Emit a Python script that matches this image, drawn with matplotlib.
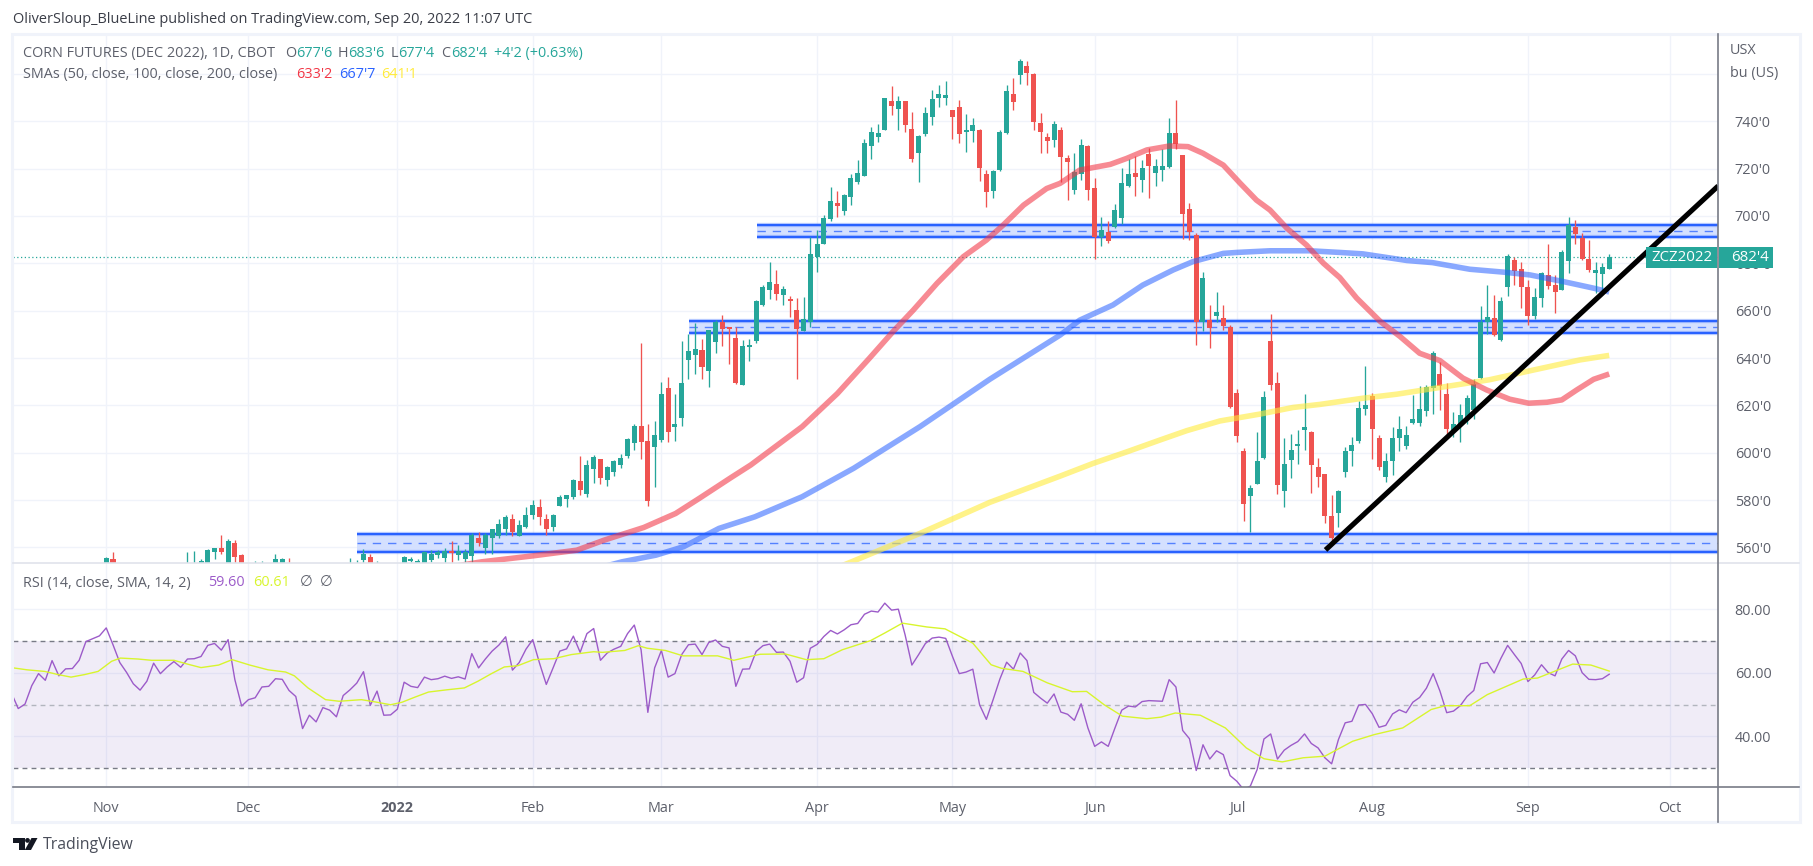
import numpy as np
import matplotlib
matplotlib.use('Agg')
import matplotlib.pyplot as plt
from matplotlib.patches import Rectangle, Polygon, Circle

plt.rcParams['font.family'] = ['Open Sans', 'DejaVu Sans']

W, H = 1813, 866

# candles, Nov 1 2021 (bar 13) to Sep 20 2022 (bar 235); bars under the pane bottom are estimates
opens = [552.5,555.1,549,547,549,550,548,549,551,549,550,551,
         550,551,550,552,558.1,559.7,552.8,561.9,556.8,551,549,550,551,552,552,552,
         550,548,547,549,547,545,548,550,550,551,554.7,556,550,551,549,550,
         552.5,554.4,552.5,553.2,554.7,556.8,555.5,558.5,556.8,555.1,556.4,564,559.7,
         563.9,564.8,567.7,572,564.8,568.6,573.7,577,572,568.6,577.5,580.4,581.3,588,582.5,593.1,
         597.3,588.4,591.8,594.8,598.6,604.1,611.3,604.9,602.4,605.3,627.3,610.8,614.6,639.2,641.3,
         643.4,634.5,646.8,655.2,652.9,648.4,628.6,644.6,647.2,662.4,668.7,671.3,666.6,665,660.3,651.5,
         655.4,682.7,688.2,698.7,705.4,702.1,708,714.3,716.9,729.5,733.3,736.3,748.5,745.2,748.5,736.7,
         726.6,734.6,741.8,749.8,749.8,744.7,746,735.5,735.9,736.3,717.7,710.5,719.4,735,751.5,759.5,
         763.3,760,739.3,733.3,732.1,736.3,724.5,711,717.7,729.6,711.8,691.1,693.2,695.3,699.1,712.7,
         718.2,715.2,726.2,718.2,719.4,720.7,735.1,725.8,702.9,691.9,655.2,656,657.7,656.9,653.1,625.2,
         600.7,581.7,586.7,597.7,647.2,629.4,583.8,596.9,602.8,609.5,608.7,593.9,590.9,573.3,574.7,592,
         600.5,605,618.5,624,606.3,589.9,596.3,606,603,612.6,612.7,617.8,627.5,633.3,624.9,609.6,611.8,
         614.7,618.1,631.6,655.3,657,647.7,670.1,681.5,677.7,670.1,657.8,665.4,675.1,670.9,668.8,681,
         695.4,690.8,681.9,676,675.6,677.75]
highs = [555.9,558.1,552,550,552,553,551,552,553,552,553,553,
         558.1,558.5,555.1,559.3,559.7,565.2,563.5,563.1,557.2,553,554.3,554.3,553,557.2,555.5,555.5,
         553,551,550,552,550,549,551,553,555.5,554.7,559.3,557.2,554.2,553,552,553,
         556.4,556,555.1,558.5,558.9,558.9,559.7,562.7,561,559.3,565.9,566.5,566,
         567.7,572,573.7,574.1,571.5,577,580,580.4,574.1,574.1,582.1,582.1,588.9,598.6,596.9,599,
         597.3,594.4,596.9,599.4,606.2,612.1,646.3,612.1,613.4,629.9,632,624.8,647.2,650.1,654.8,
         648,651.8,656,658.2,652.9,653.1,647.6,648,664.5,670.9,680.4,677.2,670.4,666.2,665.2,665.9,
         691.1,694.1,700.4,712.2,710.5,709.3,717.7,723.6,732.5,737.6,738.8,749.8,754.9,750.7,748.5,743.9,
         734.2,746,753.2,755.3,757,744.7,749,743.1,741.4,736.7,719.4,719.4,736.3,755.3,758.3,766.3,
         765.4,760.4,743.5,735,740.1,737.6,725.8,726.6,732.5,730,716,699.6,697.9,705,720.3,724.1,
         725.3,723.6,728.7,724.1,728.3,741.4,749,725.8,705.5,692.8,676.3,662.4,667.9,662.4,653.9,626.9,
         602,586.3,608.7,626,658.6,634.1,606.2,607.9,609.5,624.9,609.1,597.7,590.9,582.2,584.3,602.3,
         606.5,621.9,636.7,625.3,607.5,599.9,610.8,615.6,611.3,624.4,628.2,628.6,643,638.2,629.5,617.2,620.6,
         624.4,631,662,670.9,666.7,665.7,684,682.6,680.6,673,669.6,676.4,688.2,675.1,685.7,699.6,
         698.4,692.9,689.9,680.6,680.2,683.75]
lows = [551,550,546,544,546,547,545,546,548,546,547,548,
        548,549,548,550,555.1,557.2,551,552,550,548,547,548,548,550,550,549,
        547,545,544,546,543,542,545,547,548,549,552,550,548,548,546,547,
        550,553.7,550,552.5,554,555.5,552,552,554.7,552,553,560.6,557.2,
        557.2,563.9,565.2,564.8,564.8,568.2,572,569.4,565.2,566.9,577.5,577,580.4,582.1,581.3,587.2,
        586.8,585.9,590.1,593.5,597.7,601.1,597.3,577.5,585.5,604.5,604.5,604.9,611.3,631.1,633.2,
        631.1,627.7,642.1,645.1,637.5,629,628.6,638.7,646.5,662,665,664.5,662.4,657.3,631.1,651.5,
        653.2,676.4,688.1,697.8,699.5,700.4,704.6,713.5,716.9,724,731.2,736.3,742.6,736.3,735.5,722.8,
        714.3,733.8,738.4,746,746.9,732.5,730.8,727,731.2,714.8,703.8,707.6,719,734.6,744.7,755.7,
        755.3,736.3,726.6,726.6,729.1,714.3,706.7,709.3,715.2,706.7,681.8,687.3,688.6,694.9,696.6,712.2,
        708.4,710.1,707.6,712.7,714.8,720.3,728.3,690.3,689.8,645.5,651.4,644.2,655.2,651.8,618.9,604.5,
        571.1,566.4,586.7,597.3,626.5,582.5,577,589.3,595.2,601.1,582.9,585.5,570.4,561.8,568.8,589.9,
        594.4,604,616.1,597.5,592.7,587.8,590.6,600.9,601.5,612.3,611.3,615.7,616.5,618.1,608,606.8,604.3,
        612.2,614.3,631.2,650.2,649.4,647.2,666.3,670.9,661.2,654,656.5,661.6,669.2,659.1,668.8,676,
        688.2,681.5,676.4,667.5,668.8,677.5]
closes = [555.5,551.5,547,549,550,548,549,551,549,550,551,552,
          552.5,553,554.2,558.9,559.7,558.1,562.7,556,552.5,550,551,552,550,555.1,555.1,550,
          548,547,549,547,545,548,550,552,552,552.5,557.2,552.5,552,549,550,552,
          556,555.1,554.2,558.1,557.2,558.1,558.5,557.6,558.3,558.1,565.2,561.9,565.2,
          567.7,569.9,572.8,566.5,569.4,573.7,577.9,572.8,567.7,573.7,581.3,582.1,588.4,584.2,594.8,598.2,
          589.3,593.9,596.5,597.7,605.8,611.3,604.5,579.6,607.5,624.8,608.7,612.1,629.4,643,643.8,
          636.2,651.8,655.2,652.3,652.3,629.4,645.1,645.5,664.1,670,672.1,667,669.2,664.1,652.2,656.3,
          684,688.2,699.2,706.3,704.2,708.8,716,718.1,730.8,735.5,735,749.8,746.4,748.5,738.4,724,
          733.8,743.5,749.4,751.5,751.1,741.8,734.6,736.3,738.4,720.2,710.1,719,735.5,752.8,748.1,765.5,
          760.4,739.7,735.5,731.6,738.8,724.9,722.8,718.6,730,711,691.1,694.1,689.4,702.5,713.9,717.7,
          716.5,720.3,721.1,721.1,721.1,735.1,730.4,700.8,693.2,655.2,673.8,652.6,659.4,653.5,619.1,607,
          578.3,585.1,596.4,623.5,628.6,586.3,595.2,601.1,603.6,610.8,594.8,589.7,573.2,563.9,583.9,600.8,
          603.3,618.9,620.2,609.8,594.1,596.5,606.3,610.1,607.5,614.3,618.5,627.8,642,628,610.1,612.2,616,
          623.2,629.1,655.3,657.4,649.8,664.2,683.2,676.8,670.1,657.8,665.8,676,670.5,667.9,684.9,696,
          692.5,681.9,677.2,677.2,678.5,682.5]
candle_bars = np.arange(13, 13 + len(opens))

sma50_bars = [60,68.5,76,82.5,86.5,92.4,97.1,100.6,105.3,108.2,115.8,121,125.7,129.2,132.2,135.7,139.6,143,145.5,
              148.5,151.9,153.9,156.8,161.3,163.7,166.7,170.1,172.8,175,178,180.5,182.9,184.9,187.4,190.3,
              192.8,195.2,197.7,201.2,204.1,207,210,213.4,216.9,220.3,223.1,225.8,228,230.2,232.7,235]
sma50_vals = [550,553.9,556.4,558.8,563,568.4,574.3,580.7,589.5,594.8,611,625,639.8,651.1,660.2,671.5,682.8,689.8,696.2,
              704.6,711.6,713.8,719.4,721.8,724.3,727.9,729.6,729.3,726.5,721.5,713.8,706.7,702.5,694.8,687.7,
              680,674,665.3,655.4,649.1,642,638.9,631.5,626.5,622.6,620.9,621.3,622.3,626.5,631,633.25]
sma100_bars = [84,89.2,94.2,98.3,103.5,108.8,115.8,123.4,133.2,143.5,153.9,156.8,161.7,166.1,170.6,173.5,178,180,
               184.9,190.8,195.2,198.6,205.1,208.9,214.4,219.3,223.3,228.2,232.7,235]
sma100_vals = [550,553.9,556.7,560.3,568,572.9,581.4,593.4,611,631,649.7,656,662.4,670.8,677.2,680.7,684.2,684.6,
               685.3,685.3,684.6,684,681.2,680.3,677.5,676.3,675.1,672.3,669.5,667.9]
sma200_bars = [118,123.1,133.2,143.5,153.9,158.8,163.8,168.6,172.6,177.5,183.4,188.3,192.3,198.6,203.6,211,217.3,
               223.3,230.7,235]
sma200_vals = [548,553.9,565.9,579,590.1,595.5,600.4,605.3,609.3,613.4,616.3,619.1,620.4,623,624.7,628,630.8,
               634.6,639.2,641.1]

rsi_vals = [53.7,48.8,50.2,56.0,59.8,57.7,63.9,59.1,61.3,61.4,
            64.0,69.9,70.8,71.7,74.2,68.9,63.3,60.2,56.6,54.6,
            57.4,63.1,59.8,61.9,63.6,61.8,64.4,64.5,65.2,68.7,
            69.3,67.2,70.5,57.9,49.6,51.6,52.2,55.6,55.8,58.2,
            58.0,54.5,52.6,42.5,46.7,44.6,49.1,48.3,46.2,52.9,
            54.7,56.8,60.4,49.8,54.3,46.7,46.8,48.6,57.1,55.8,
            55.4,58.7,57.9,58.2,59.0,58.3,58.8,58.1,66.1,61.6,
            64.4,66.9,68.8,71.4,60.9,63.3,67.5,70.5,63.1,56.4,
            61.6,66.9,67.6,71.6,66.5,72.4,74.0,64.0,66.3,67.5,
            68.4,72.4,75.1,67.3,47.6,61.6,67.1,58.7,59.8,65.8,
            68.9,69.1,
            65.8,69.6,70.4,68.4,67.9,55.8,61.2,61.3,66.8,68.6,
            69.1,66.5,66.6,63.7,57.1,58.5,67.8,69.0,71.5,73.4,
            72.3,73.6,75.2,75.6,78.5,79.5,79.2,82.0,79.8,80.1,
            72.0,62.5,65.8,69.3,71.0,71.3,70.9,65.2,59.8,60.3,
            61.2,50.0,45.4,51.6,58.1,63.4,61.2,66.3,63.9,53.9,
            52.1,50.5,53.4,47.7,47.0,45.1,50.3,42.7,36.9,38.3,
            36.9,42.7,48.3,49.6,49.3,51.0,51.3,51.2,51.1,57.9,
            55.6,41.9,39.3,29.3,37.4,32.9,35.5,34.3,27.7,25.9,
            23.3,24.4,29.6,39.2,40.8,32.9,35.7,37.2,38.4,40.8,
            37.8,36.4,33.3,31.4,39.0,44.3,44.8,49.9,50.1,47.2,
            42.9,43.5,47.1,48.4,47.5,50.8,52.3,55.2,59.8,54.3,
            47.5,48.0,49.7,52.6,54.5,62.9,63.3,60.0,64.6,68.7,
            65.8,63.0,57.3,59.4,62.6,60.1,59.1,64.4,67.1,65.4,
            60.1,58.0,57.9,58.2,59.6]
rsi_bars = np.arange(236 - len(rsi_vals), 236)

rsi_sma_bars = [-0.7,1.3,3.9,5.9,7.8,9.8,11.8,13.8,15.1,17.7,19.7,23,25,27,29.6,31.6,34.2,36.9,39.5,40.8,42.8,45.4,
                47.4,50.7,52.7,55,56.7,58.6,60.6,63.3,65.9,67.9,69.9,71.8,73.8,76.1,79.1,81.7,85,86.3,89.6,91.6,
                92.9,95.6,98.2,100.7,103.3,105.7,107.5,109.6,113.3,116.4,119,121.7,125.9,128,130.6,134.2,136.9,
                141,143.7,145.2,148.4,152,155.7,157.8,160.4,163.1,166.7,168.8,170.9,174.6,178.3,181.4,184,186.7,
                189.8,193,197.1,200.3,204.5,208.7,210.8,214.4,217,222.3,224.4,229.6,232.3,235]
rsi_sma_vals = [61.6,61.0,60.5,59.5,58.7,59.5,60.5,63.7,64.7,64.4,64.0,64,62.8,61.7,62.5,64.2,62.5,61,60.3,59.1,55.3,51.6,
                51.1,51.6,50.9,50.0,50.8,52.4,54,54.7,55.3,57.4,59.8,61.9,62.3,64.2,64.5,65.8,66.7,66.5,67.1,68.6,
                67.8,67.1,65.4,65.4,65.4,64,64.9,65.9,66,64.2,64.5,67.3,70.2,72.6,75.7,74.5,73.9,
                69.4,62.6,61.5,60.5,56.9,54.1,54.2,50,46.4,45.6,46.1,47.4,46.7,42.7,36.4,33,32,
                33.3,33.8,38.5,40.6,42.7,48.5,49.7,49.7,53.2,58.1,58.4,62.8,62.5,60.61]

# drawn zones: start bar, top, middle, bottom
zone_starts = [109.1, 99.15, 50.04]
zone_tops = [696.2, 655.8, 565.6]
zone_mids = [693.5, 653.2, 561.9]
zone_bots = [691.2, 650.5, 558.1]
trend_bars = [193.1, 251.1]
trend_vals = [558.9, 712.7]
last_price = 682.5

price_ticks = [560, 580, 600, 620, 640, 660, 680, 700, 720, 740]
price_labels = ["560'0", "580'0", "600'0", "620'0", "640'0", "660'0", "680'0", "700'0", "720'0", "740'0"]
extra_grid = [760]
rsi_ticks = [40, 60, 80]
rsi_labels = ['40.00', '60.00', '80.00']
month_bars = [13, 34, 56, 76, 95, 118, 138, 159, 180, 200, 223, 244]
month_labels = ['Nov', 'Dec', '2022', 'Feb', 'Mar', 'Apr', 'May', 'Jun', 'Jul', 'Aug', 'Sep', 'Oct']

GREEN = '#26a69a'
RED = '#ef5350'
BLUE = '#2962ff'
GRID = '#f0f3fa'
TXT = '#5d606b'
XLIM = (-0.83, 251.07)


def pane(l, t, r, b):
    ax = fig.add_axes([l / W, 1 - b / H, (r - l) / W, (b - t) / H])
    for s in ax.spines.values():
        s.set_visible(False)
    ax.set_xlim(*XLIM)
    return ax


fig = plt.figure(figsize=(W / 100, H / 100), dpi=100, facecolor='white')

# main pane
ax = pane(12.6, 33.5, 1718, 562.5)
ax.set_ylim(553.6, 777.1)
ax.yaxis.tick_right()
ax.set_yticks(price_ticks)
ax.set_yticklabels(price_labels)
ax.tick_params(axis='y', length=0, pad=12, labelsize=10.4, labelcolor=TXT)
ax.set_xticks(month_bars)
ax.tick_params(axis='x', length=0, labelbottom=False)
ax.grid(True, color=GRID, lw=1)
ax.set_axisbelow(True)
for v in extra_grid:
    ax.axhline(v, color=GRID, lw=1, zorder=0.5)

ax.axhline(last_price, color=GREEN, lw=0.9, ls=(0, (1, 2)), zorder=1)

for x0, top, mid, bot in zip(zone_starts, zone_tops, zone_mids, zone_bots):
    ax.fill_between([x0, XLIM[1]], [bot, bot], [top, top], color='#d4e0ff', lw=0, zorder=1.2)
    for y in (top, bot):
        ax.plot([x0, XLIM[1]], [y, y], color=BLUE, lw=3.2, alpha=0.2, solid_capstyle='butt', zorder=1.3)
        ax.plot([x0, XLIM[1]], [y, y], color=BLUE, lw=1.7, solid_capstyle='butt', zorder=1.4)
    ax.plot([x0, XLIM[1]], [mid, mid], color=BLUE, lw=1, alpha=0.75, ls=(0, (6, 5)), zorder=1.4)

o = np.array(opens)
hi = np.array(highs)
lo = np.array(lows)
c = np.array(closes)
colors = [GREEN if b >= a else RED for a, b in zip(o, c)]
ax.vlines(candle_bars, lo, hi, colors=colors, lw=0.95, zorder=2)
body = np.maximum(np.abs(c - o), 0.45)
ax.bar(candle_bars, body, bottom=np.minimum(o, c), width=0.74, color=colors, lw=0, zorder=2.1)

ax.plot(sma200_bars, sma200_vals, color='#ffeb3b', lw=4.0, alpha=0.6, solid_capstyle='butt', zorder=3)
ax.plot(sma100_bars, sma100_vals, color=BLUE, lw=4.0, alpha=0.55, solid_capstyle='butt', zorder=3.1)
ax.plot(sma50_bars, sma50_vals, color='#f23645', lw=4.0, alpha=0.58, solid_capstyle='butt', zorder=3.2)
ax.plot(trend_bars, trend_vals, color='black', lw=3.7, solid_capstyle='butt', zorder=4)

# RSI pane
rx = pane(12.6, 562.5, 1718, 787.3)
rx.set_ylim(24.0, 94.8)
rx.yaxis.tick_right()
rx.set_yticks(rsi_ticks)
rx.set_yticklabels(rsi_labels)
rx.tick_params(axis='y', length=0, pad=12, labelsize=10.4, labelcolor=TXT)
rx.set_xticks(month_bars)
rx.set_xticklabels(month_labels)
rx.tick_params(axis='x', length=0, pad=10, labelsize=10.4, labelcolor=TXT)
rx.get_xticklabels()[2].set_fontweight('bold')
rx.grid(True, color=GRID, lw=1)
rx.set_axisbelow(True)
rx.axhspan(30, 70, color='#5e35b1', alpha=0.09, lw=0, zorder=1)
rx.axhline(70, color='#787b86', lw=1, ls=(0, (3.5, 3)), zorder=1.5)
rx.axhline(30, color='#787b86', lw=1, ls=(0, (3.5, 3)), zorder=1.5)
rx.axhline(50, color='#b2b5be', lw=1, ls=(0, (3.5, 3)), zorder=1.5)
rx.plot(rsi_bars, rsi_vals, color='#9c5bc9', lw=1.0, zorder=3)
rx.plot(rsi_sma_bars, rsi_sma_vals, color='#d8f52d', lw=1.0, zorder=3.1)

# frame, legends and tags in pixel coordinates
ov = fig.add_axes([0, 0, 1, 1], zorder=10)
ov.set_xlim(0, W)
ov.set_ylim(H, 0)
ov.axis('off')
ov.patch.set_alpha(0)
ov.add_patch(Rectangle((12, 33.5), 1787.5, 788.5, fill=False, ec=GRID, lw=2.2))
ov.plot([12.6, 1799], [562.5, 562.5], color='#e0e3eb', lw=1.2)
ov.plot([12.6, 1799], [787.3, 787.3], color='#787b86', lw=1.2)
ov.plot([1718, 1718], [33.5, 821.5], color='#787b86', lw=1.2)


def txt(x, y, s, color=TXT, size=10.4, **kw):
    ov.text(x, y, s, color=color, fontsize=size, va='center', ha='left', **kw)


txt(13, 19.5, 'OliverSloup_BlueLine published on TradingView.com, Sep 20, 2022 11:07 UTC', color='#3a3d47', size=10.45)
txt(23, 53.5, 'CORN FUTURES (DEC 2022), 1D, CBOT')
for x, lab in [(285.5, 'O'), (338, 'H'), (391, 'L'), (441.3, 'C')]:
    txt(x, 53.5, lab)
for x, val in [(295.8, "677'6"), (348, "683'6"), (398.6, "677'4"), (450.8, "682'4"), (493.5, "+4'2 (+0.63%)")]:
    txt(x, 53.5, val, color=GREEN)
txt(23, 74.5, 'SMAs (50, close, 100, close, 200, close)')
txt(295.8, 74.5, "633'2", color='#f23645')
txt(338.9, 74.5, "667'7", color=BLUE)
txt(381.6, 74.5, "641'1", color='#ffeb3b')
txt(23.2, 583, 'RSI (14, close, SMA, 14, 2)')
txt(208, 583, '59.60', color='#9c5bc9')
txt(253.6, 583, '60.61', color='#d8f52d')
txt(300, 583, '∅', size=10.5)
txt(319.6, 583, '∅', size=10.5)
txt(1730, 50.5, 'USX')
txt(1730, 74, 'bu (US)')

ov.add_patch(Rectangle((1645.7, 247.3), 71, 20.4, fc=GREEN, ec='none'))
ov.add_patch(Rectangle((1718.5, 247.3), 54.5, 20.4, fc=GREEN, ec='none'))
txt(1651, 257.5, 'ZCZ2022', color='white', size=10.8)
txt(1731, 257.5, "682'4", color='white', size=10.8)

# TradingView logo and name
ov.add_patch(Polygon([(13, 838), (24.5, 838), (24.5, 850), (18.5, 850), (18.5, 843), (13, 843)], fc='#131722', ec='none'))
ov.add_patch(Circle((27.5, 840.4), 2.4, fc='#131722', ec='none'))
ov.add_patch(Polygon([(31.5, 838), (37.5, 838), (31, 850), (24.8, 850)], fc='#131722', ec='none'))
txt(42.4, 845, 'TradingView', color='#4a4e5a', size=11.4)

fig.savefig('out.png', dpi=100, facecolor='white')
